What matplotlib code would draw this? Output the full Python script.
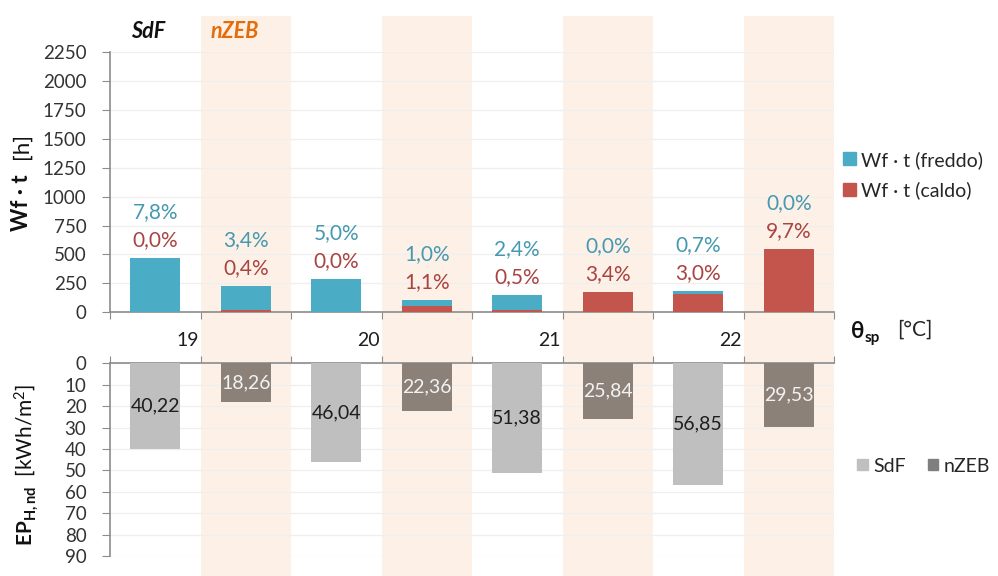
import matplotlib
matplotlib.use("Agg")
import matplotlib.pyplot as plt
from matplotlib.patches import Patch
from matplotlib.transforms import blended_transform_factory

plt.rcParams['font.family'] = ['Lato', 'DejaVu Sans']
plt.rcParams['mathtext.fontset'] = 'custom'
plt.rcParams['mathtext.rm'] = 'Lato'
plt.rcParams['mathtext.bf'] = 'Lato:bold'
plt.rcParams['mathtext.it'] = 'Lato:italic'

# ---------------- data ----------------
setpoints = ['19', '20', '21', '22']
buildings = ['SdF', 'nZEB']
# order: 19 SdF, 19 nZEB, 20 SdF, 20 nZEB, ...
wf_freddo = [470, 207, 285, 49, 127, 0, 29, 0]
wf_caldo = [0, 20, 0, 57, 20, 175, 155, 547]
pct_freddo = ['7,8%', '3,4%', '5,0%', '1,0%', '2,4%', '0,0%', '0,7%', '0,0%']
pct_caldo = ['0,0%', '0,4%', '0,0%', '1,1%', '0,5%', '3,4%', '3,0%', '9,7%']
ep_sdf = [40.22, 46.04, 51.38, 56.85]
ep_nzeb = [18.26, 22.36, 25.84, 29.53]
top_ticks = [0, 250, 500, 750, 1000, 1250, 1500, 1750, 2000, 2250]
bot_ticks = [0, 10, 20, 30, 40, 50, 60, 70, 80, 90]

# ---------------- style ----------------
C_FREDDO = '#4BACC6'
C_CALDO = '#C4554D'
C_TXT_F = '#4599B0'
C_TXT_C = '#A94442'
C_SDF = '#BFBFBF'
C_NZEB = '#8C8179'
C_NZEB_LEG = '#7F7F7F'
C_BAND = '#FDF1E7'
C_AXIS = '#8C8C8C'
C_GRID = '#EFEFEF'
C_TICK = '#333333'

W, H = 998, 576
fig = plt.figure(figsize=(W / 100, H / 100), dpi=100)

def fx(px):
    return px / W

def fy(py):
    return 1 - py / H

left_px, right_px = 110, 834
n = len(setpoints) * len(buildings)
slots = list(range(n))
centers = [i + 0.5 for i in slots]

# background bands
bg = fig.add_axes([fx(left_px), 0, fx(right_px) - fx(left_px), fy(16)], zorder=0)
bg.set_xlim(0, n)
bg.set_ylim(0, 1)
bg.axis('off')
for i in slots:
    if buildings[i % 2] == 'nZEB':
        bg.axvspan(i, i + 1, color=C_BAND, lw=0)

# ---------------- top axes ----------------
ax1 = fig.add_axes([fx(left_px), fy(312.3), fx(right_px) - fx(left_px), fy(52) - fy(312.3)], zorder=2)
ax1.patch.set_alpha(0)
bw = 0.55
ax1.bar(centers, wf_caldo, width=bw, color=C_CALDO, zorder=3)
ax1.bar(centers, wf_freddo, width=bw, bottom=wf_caldo, color=C_FREDDO, zorder=3)
ax1.set_xlim(0, n)
ax1.set_ylim(0, 2250)
ax1.set_yticks(top_ticks)
ax1.set_xticks(range(n + 1))
ax1.set_xticklabels([])
ax1.tick_params(axis='x', direction='out', length=5, color=C_AXIS)
ax1.tick_params(axis='y', direction='out', length=6, color=C_AXIS, labelsize=13.5, labelcolor=C_TICK, pad=11)
for s in ['top', 'right']:
    ax1.spines[s].set_visible(False)
for s in ['left', 'bottom']:
    ax1.spines[s].set_color(C_AXIS)
    ax1.spines[s].set_linewidth(1.2)
ax1.yaxis.grid(True, color=C_GRID, lw=0.9, zorder=0)
ax1.set_axisbelow(True)

for x, f, c, pf, pc in zip(centers, wf_freddo, wf_caldo, pct_freddo, pct_caldo):
    tot = f + c
    ax1.annotate(pc, (x, tot), xytext=(0, 13), textcoords='offset points',
                 ha='center', va='center', fontsize=15, color=C_TXT_C)
    ax1.annotate(pf, (x, tot), xytext=(0, 33), textcoords='offset points',
                 ha='center', va='center', fontsize=15, color=C_TXT_F)

# ---------------- bottom axes ----------------
ax2 = fig.add_axes([fx(left_px), fy(556), fx(right_px) - fx(left_px), fy(363.3) - fy(556)], zorder=2)
ax2.patch.set_alpha(0)
sdf_x = [centers[2 * k] for k in range(len(setpoints))]
nz_x = [centers[2 * k + 1] for k in range(len(setpoints))]
ax2.bar(sdf_x, ep_sdf, width=bw, color=C_SDF, zorder=3)
ax2.bar(nz_x, ep_nzeb, width=bw, color=C_NZEB, zorder=3)
ax2.set_xlim(0, n)
ax2.set_ylim(90, 0)
ax2.set_yticks(bot_ticks)
ax2.xaxis.tick_top()
ax2.set_xticks(range(n + 1))
ax2.set_xticklabels([])
ax2.tick_params(axis='x', direction='out', length=5, color=C_AXIS)
ax2.tick_params(axis='y', direction='out', length=6, color=C_AXIS, labelsize=13.5, labelcolor=C_TICK, pad=11)
for s in ['bottom', 'right']:
    ax2.spines[s].set_visible(False)
for s in ['left', 'top']:
    ax2.spines[s].set_color(C_AXIS)
    ax2.spines[s].set_linewidth(1.2)
ax2.yaxis.grid(True, color=C_GRID, lw=0.9, zorder=0)
ax2.set_axisbelow(True)

for x, v in zip(sdf_x, ep_sdf):
    ax2.text(x, v / 2, f"{v:.2f}".replace('.', ','), ha='center', va='center', fontsize=14, color='#1E1E1E', zorder=4)
for x, v in zip(nz_x, ep_nzeb):
    ax2.text(x, v / 2, f"{v:.2f}".replace('.', ','), ha='center', va='center', fontsize=14, color='#F2F2F2', zorder=4)

# category labels
tr = blended_transform_factory(ax2.transData, fig.transFigure)
for k, sp in enumerate(setpoints):
    ax2.text(2 * k + 1 - 0.14, fy(340), sp, transform=tr, ha='center', va='center', fontsize=14, color='#1E1E1E')

# building labels on top
tr1 = blended_transform_factory(ax1.transData, fig.transFigure)
ax1.text(centers[0] - 0.08, fy(32), buildings[0], transform=tr1, ha='center', va='center',
         fontsize=15.5, fontweight='bold', fontstyle='italic', color='#111111')
ax1.text(centers[1] - 0.12, fy(32), buildings[1], transform=tr1, ha='center', va='center',
         fontsize=15.5, fontweight='bold', fontstyle='italic', color='#E46C0A')

# y labels
fig.text(fx(21), fy(203), 'Wf · t', rotation=90, ha='center', va='center', fontsize=16, fontweight='bold', color='#111111')
fig.text(fx(22), fy(146), '[h]', rotation=90, ha='center', va='center', fontsize=16, color='#111111')
fig.text(fx(27), fy(465), r'$\mathbf{EP_{H,nd}}$  [kWh/m$^2$]', rotation=90, ha='center', va='center', fontsize=15, color='#111111')

# theta label
fig.text(fx(851), fy(331), 'θ', ha='left', va='center', fontsize=16, fontweight='bold', color='#111111')
fig.text(fx(865), fy(338), 'sp', ha='left', va='center', fontsize=11, fontweight='bold', color='#111111')
fig.text(fx(897), fy(330), '[°C]', ha='left', va='center', fontsize=15, color='#262626')

# legends
leg1 = fig.legend([Patch(color=C_FREDDO), Patch(color=C_CALDO)],
                  ['Wf · t (freddo)', 'Wf · t (caldo)'],
                  loc='center left', bbox_to_anchor=(fx(843), fy(175)), frameon=False,
                  fontsize=14, handlelength=0.65, handleheight=0.65, handletextpad=0.3,
                  labelspacing=0.65, borderpad=0, borderaxespad=0, labelcolor='#262626')
leg2 = fig.legend([Patch(color=C_SDF), Patch(color=C_NZEB_LEG)], buildings,
                  loc='center left', bbox_to_anchor=(fx(857), fy(466)), frameon=False, ncol=2,
                  fontsize=14, handlelength=0.55, handleheight=0.55, handletextpad=0.3,
                  columnspacing=1.1, borderpad=0, borderaxespad=0, labelcolor='#262626')

fig.savefig('out.png', dpi=100)
